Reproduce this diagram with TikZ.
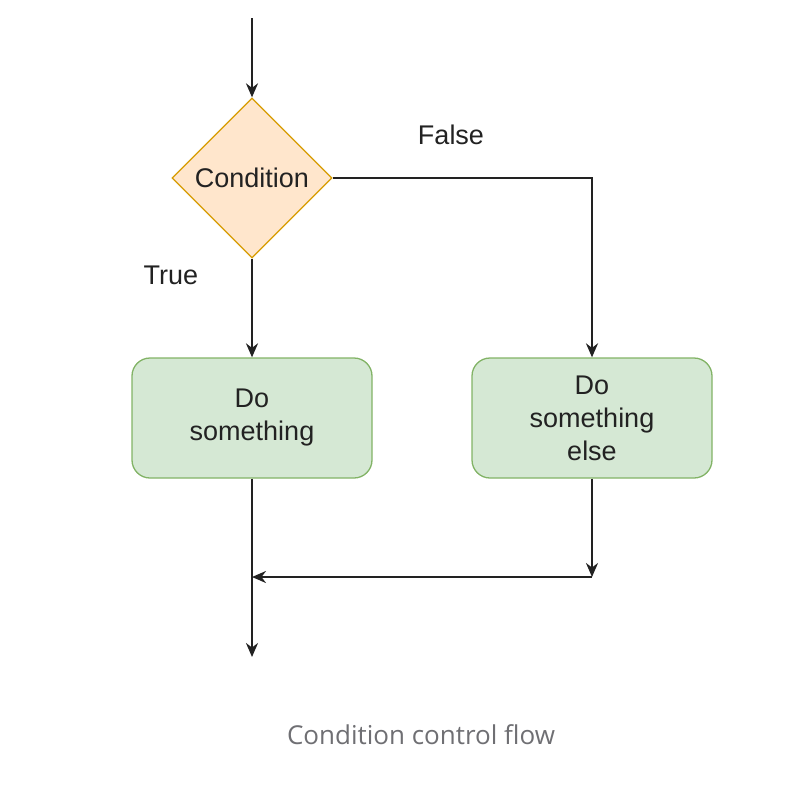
\documentclass[tikz,border=0pt]{standalone}
\usepackage{fontspec}
\setmainfont{Liberation Sans}
\newfontfamily\capfont{Open Sans}
\usetikzlibrary{shapes.geometric,arrows.meta}
\definecolor{condfill}{HTML}{FFE6CC}
\definecolor{conddraw}{HTML}{D79B00}
\definecolor{boxfill}{HTML}{D5E8D4}
\definecolor{boxdraw}{HTML}{82B366}
\definecolor{lineclr}{HTML}{222222}
\definecolor{capclr}{HTML}{6F6F73}
\tikzset{
  cond/.style={draw=conddraw, fill=condfill, diamond, line width=1.3pt, minimum width=160pt, minimum height=160pt, inner sep=0pt},
  task/.style={draw=boxdraw, fill=boxfill, rectangle, rounded corners=18pt, line width=1.3pt, minimum width=240pt, minimum height=120pt, align=center},
  flow/.style={draw=lineclr, line width=2.2pt, -{Stealth[length=14pt,width=12pt]}}
}
\begin{document}
\begin{tikzpicture}[x=1pt,y=-1pt, font=\fontsize{27}{33}\selectfont, text=lineclr]
\useasboundingbox (0,0) rectangle (786,812);
\coordinate (start) at (252,18);
\node[cond] (cond) at (252,178) {Condition};
\node[task] (do) at (252,418) {Do\\something};
\node[task] (else) at (592,418) {Do\\something\\else};
\coordinate (join) at (592,577);
\coordinate (merge) at (252,577);
\coordinate (end) at (252,657);
\node (false) at (451,135) {False};
\node (true) at (171,275) {True};
\node[text=capclr, font=\capfont\fontsize{26}{30}\selectfont] (cap) at (421,735) {Condition control flow};
\path[flow] (start) -- (cond.north);
\path[flow] (cond.east) -| (else.north);
\path[flow] (cond.south) -- (do.north);
\path[flow] (do.south) -- (end);
\path[flow] (else.south) -- (join);
\path[flow] (join) -- (merge);
\end{tikzpicture}
\end{document}
